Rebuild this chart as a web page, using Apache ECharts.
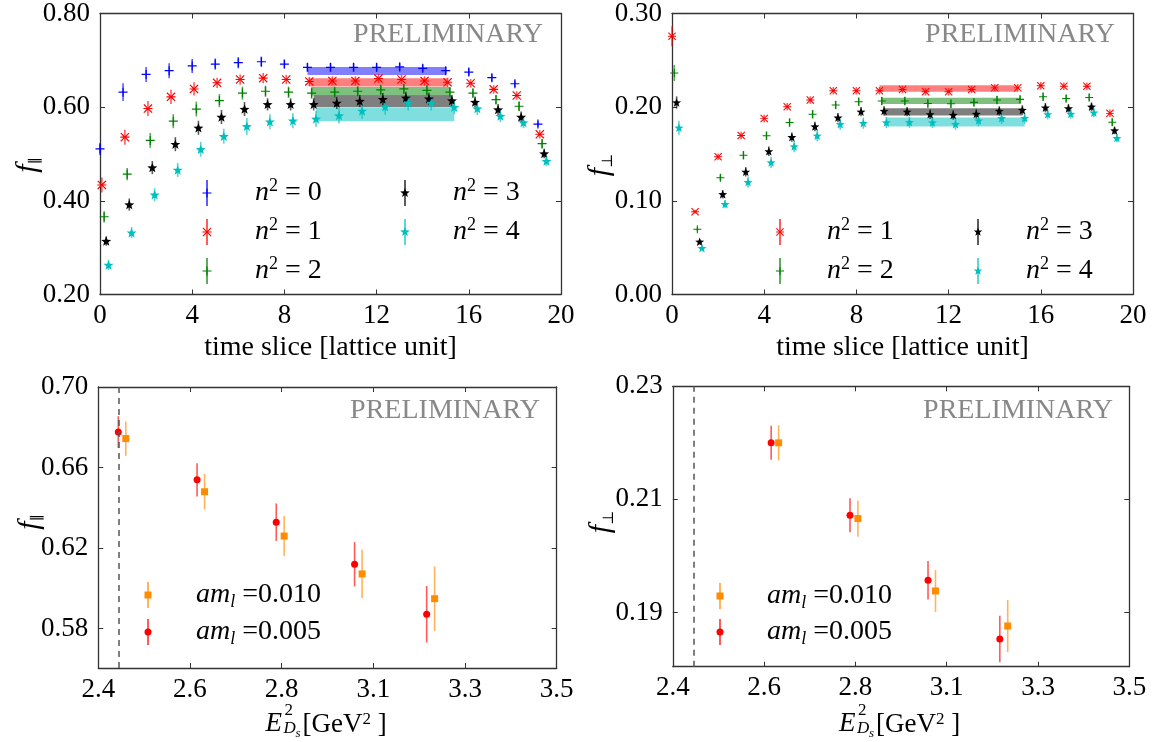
<!DOCTYPE html>
<html>
<head>
<meta charset="utf-8">
<script src="https://cdn.jsdelivr.net/npm/echarts@6/dist/echarts.min.js"></script>
<style>
html, body { margin: 0; padding: 0; background: #fff; }
#chart { width: 1160px; height: 742px; }
</style>
</head>
<body>
<div id="chart"></div>
<script>
// ---- data ----
const timeSlices = [0, 1, 2, 3, 4, 5, 6, 7, 8, 9, 10, 11, 12, 13, 14, 15, 16, 17, 18, 19];
const shiftPar = [0, 0.08, 0.18, 0.27, 0.37];   // n2 = 0..4
const shiftPerp = [0, 0.1, 0.2, 0.3];           // n2 = 1..4

const fParN0 = [0.511, 0.632, 0.670, 0.678, 0.688, 0.692, 0.695, 0.697, 0.692, 0.685, 0.685, 0.685, 0.685, 0.686, 0.683, 0.678, 0.675, 0.663, 0.650, 0.564];
const fParN1 = [0.434, 0.536, 0.597, 0.622, 0.639, 0.652, 0.659, 0.662, 0.659, 0.655, 0.656, 0.656, 0.661, 0.659, 0.656, 0.653, 0.651, 0.638, 0.625, 0.542];
const fParN2 = [0.366, 0.457, 0.529, 0.570, 0.596, 0.614, 0.630, 0.634, 0.632, 0.630, 0.632, 0.634, 0.637, 0.639, 0.636, 0.632, 0.630, 0.616, 0.602, 0.522];
const fParN3 = [0.314, 0.392, 0.471, 0.521, 0.556, 0.579, 0.596, 0.606, 0.606, 0.606, 0.609, 0.613, 0.617, 0.620, 0.618, 0.614, 0.611, 0.595, 0.579, 0.501];
const fParN4 = [0.263, 0.332, 0.413, 0.466, 0.510, 0.538, 0.559, 0.569, 0.571, 0.575, 0.582, 0.592, 0.601, 0.609, 0.609, 0.600, 0.597, 0.581, 0.567, 0.485];
const errParN0 = [0.013, 0.019, 0.016, 0.016, 0.015, 0.012, 0.012, 0.011, 0.009, 0.009, 0.009, 0.009, 0.009, 0.009, 0.008, 0.008, 0.008, 0.008, 0.007, 0.006];
const errParN1 = [0.016, 0.016, 0.016, 0.015, 0.014, 0.011, 0.011, 0.011, 0.010, 0.010, 0.010, 0.010, 0.010, 0.010, 0.010, 0.010, 0.009, 0.009, 0.009, 0.009];
const errParN2 = [0.012, 0.013, 0.016, 0.015, 0.016, 0.014, 0.014, 0.012, 0.012, 0.012, 0.012, 0.011, 0.011, 0.011, 0.011, 0.011, 0.010, 0.010, 0.010, 0.010];
const errParN3 = [0.010, 0.013, 0.014, 0.015, 0.015, 0.015, 0.015, 0.013, 0.013, 0.013, 0.013, 0.013, 0.013, 0.013, 0.013, 0.012, 0.012, 0.012, 0.012, 0.010];
const errParN4 = [0.011, 0.012, 0.014, 0.015, 0.016, 0.016, 0.018, 0.016, 0.016, 0.017, 0.017, 0.017, 0.017, 0.016, 0.016, 0.015, 0.014, 0.013, 0.012, 0.011];

const fPerpN1 = [0.2757, 0.0884, 0.1470, 0.1698, 0.1880, 0.2005, 0.2076, 0.2175, 0.2175, 0.2175, 0.2189, 0.2164, 0.2164, 0.2189, 0.2206, 0.2206, 0.2228, 0.2224, 0.2224, 0.1934];
const fPerpN2 = [0.2365, 0.0696, 0.1247, 0.1487, 0.1695, 0.1836, 0.1924, 0.2023, 0.2058, 0.2066, 0.2066, 0.2040, 0.2037, 0.2051, 0.2076, 0.2083, 0.2111, 0.2093, 0.2104, 0.1839];
const fPerpN3 = [0.2050, 0.0563, 0.1070, 0.1310, 0.1529, 0.1680, 0.1794, 0.1889, 0.1952, 0.1960, 0.1952, 0.1924, 0.1917, 0.1928, 0.1960, 0.1970, 0.1995, 0.1987, 0.2005, 0.1751];
const fPerpN4 = [0.1780, 0.0495, 0.0965, 0.1200, 0.1410, 0.1580, 0.1695, 0.1818, 0.1829, 0.1836, 0.1839, 0.1836, 0.1818, 0.1857, 0.1882, 0.1882, 0.1924, 0.1928, 0.1942, 0.1670];
const errPerpN1 = [0.0106, 0.002, 0.0035, 0.004, 0.004, 0.004, 0.004, 0.004, 0.004, 0.004, 0.004, 0.004, 0.004, 0.004, 0.004, 0.004, 0.004, 0.004, 0.004, 0.004];
const errPerpN2 = [0.0085, 0.002, 0.0035, 0.0045, 0.0045, 0.0045, 0.0045, 0.0045, 0.0045, 0.0045, 0.0045, 0.0045, 0.0045, 0.0045, 0.0045, 0.0045, 0.0045, 0.004, 0.004, 0.004];
const errPerpN3 = [0.0065, 0.002, 0.0045, 0.005, 0.005, 0.005, 0.005, 0.005, 0.005, 0.005, 0.005, 0.005, 0.005, 0.005, 0.005, 0.005, 0.005, 0.0045, 0.0045, 0.004];
const errPerpN4 = [0.0075, 0.002, 0.0045, 0.006, 0.006, 0.006, 0.006, 0.006, 0.006, 0.006, 0.006, 0.006, 0.006, 0.006, 0.006, 0.006, 0.0055, 0.005, 0.005, 0.0045];

// plateau fits, from t=9 to t=15
const fitFrom = 9, fitTo = 15;
const fitParCenter = [0.677, 0.653, 0.634, 0.613, 0.585];
const fitParHalf = [0.0085, 0.009, 0.009, 0.0124, 0.015];
const fitPerpCenter = [0.2199, 0.2067, 0.1949, 0.1841];
const fitPerpHalf = [0.0035, 0.0034, 0.0039, 0.0048];

// form factors vs E^2 (GeV^2), two light-quark masses
const eSqL005 = [2.448, 2.637, 2.827, 3.015, 3.188];
const eSqL010 = [2.466, 2.655, 2.846, 3.033, 3.207];
const fParL005 = [0.6776, 0.6539, 0.6329, 0.6120, 0.5872];
const errParL005 = [0.0079, 0.0083, 0.0093, 0.0110, 0.0140];
const fParL010 = [0.6744, 0.6480, 0.6260, 0.6072, 0.5949];
const errParL010 = [0.0085, 0.0088, 0.0099, 0.0120, 0.0160];
const fPerpL005 = [0.2200, 0.2072, 0.1957, 0.1853];   // no n2=0 point
const errPerpL005 = [0.0030, 0.0030, 0.0034, 0.0041];
const fPerpL010 = [0.2200, 0.2066, 0.1938, 0.1876];
const errPerpL010 = [0.0031, 0.0032, 0.0037, 0.0046];
const eSqCut = 2.447;

// tick labels
const eSqTicks = [2.4, 2.62, 2.84, 3.06, 3.28, 3.5];
const fParTicks = [0.58, 0.62, 0.66, 0.70];
const fPerpTicks = [0.19, 0.21, 0.23];

// ---- drawing ----
const FONT = 'Liberation Serif';
const INK = '#000';
const AXIS_COLOR = '#333';
const BLUE = '#0000ff', RED = '#ff0000', GREEN = '#008000', BLACK = '#000000', CYAN = '#00bfbf', ORANGE = '#ff8c00';

// marker outlines (polygons in a box of the given size)
const PLUS = { box: 12, polys: [[[5.2, 0], [6.8, 0], [6.8, 5.2], [12, 5.2], [12, 6.8], [6.8, 6.8], [6.8, 12], [5.2, 12], [5.2, 6.8], [0, 6.8], [0, 5.2], [5.2, 5.2]]] };
const ASTER = { box: 12, polys: [
  [[0, 1.1], [1.1, 0], [6, 4.9], [10.9, 0], [12, 1.1], [7.1, 6], [12, 10.9], [10.9, 12], [6, 7.1], [1.1, 12], [0, 10.9], [4.9, 6]],
  [[0, 5.3], [12, 5.3], [12, 6.7], [0, 6.7]]
] };
const STAR = { box: 100, polys: [[[50, 0], [62.3, 33], [97.6, 34.5], [70, 56.5], [79.4, 90.5], [50, 71], [20.6, 90.5], [30, 56.5], [2.4, 34.5], [37.7, 33]]] };

function symbolPath(m) {
  return 'path://' + m.polys.map(p => 'M' + p.map(q => q.join(',')).join('L') + 'Z').join('');
}

function points(xs, ys, shift, symbol, size, color, ax) {
  return {
    type: 'scatter', xAxisIndex: ax, yAxisIndex: ax,
    data: xs.map((x, i) => [x + shift, ys[i]]),
    symbol: symbol, symbolSize: size, symbolKeepAspect: true,
    itemStyle: { color: color, opacity: 1 },
    z: 4, silent: true, animation: false
  };
}

function errorBars(xs, ys, es, shift, color, ax) {
  return {
    type: 'custom', xAxisIndex: ax, yAxisIndex: ax,
    data: xs.map((x, i) => [x + shift, ys[i], es[i]]),
    encode: { x: 0, y: 1 },
    renderItem: function (params, api) {
      const x = api.value(0), y = api.value(1), e = api.value(2);
      const lo = api.coord([x, y - e]), hi = api.coord([x, y + e]);
      return {
        type: 'line',
        shape: { x1: lo[0], y1: lo[1], x2: hi[0], y2: hi[1] },
        style: { stroke: color, lineWidth: 1.6, opacity: 0.65 }
      };
    },
    z: 3, silent: true, animation: false
  };
}

function fitBand(from, to, c, h, color, ax) {
  return {
    type: 'custom', xAxisIndex: ax, yAxisIndex: ax,
    data: [[from, to, c, h]],
    encode: { x: [0, 1], y: 2 },
    renderItem: function (params, api) {
      const a = api.coord([api.value(0), api.value(2) + api.value(3)]);
      const b = api.coord([api.value(1), api.value(2) - api.value(3)]);
      return {
        type: 'rect',
        shape: { x: a[0], y: a[1], width: b[0] - a[0], height: b[1] - a[1] },
        style: { fill: color, opacity: 0.5 }
      };
    },
    z: 2, silent: true, animation: false
  };
}

function axis(gi, pos, min, max, extra) {
  const isLabel = pos === 'bottom' || pos === 'left';
  const a = {
    gridIndex: gi, type: 'value', position: pos, min: min, max: max,
    axisLine: { show: true, onZero: false, lineStyle: { color: AXIS_COLOR, width: 1.3 } },
    axisTick: { show: true, inside: true, length: 5, lineStyle: { color: AXIS_COLOR, width: 1 } },
    splitLine: { show: false },
    axisLabel: {
      show: isLabel, color: INK, fontFamily: FONT, fontSize: 27,
      margin: (pos === 'bottom') ? 8 : 10
    }
  };
  if (extra.interval != null) a.interval = extra.interval;
  if (extra.ticks) {
    a.axisTick.customValues = extra.ticks;
    a.axisLabel.customValues = extra.ticks;
  }
  if (extra.fmt) a.axisLabel.formatter = extra.fmt;
  return a;
}

const fmt2 = v => v.toFixed(2);
const fmt1 = v => v.toFixed(1);

const xAxes = [
  axis(0, 'bottom', 0, 20, { interval: 4 }), axis(0, 'top', 0, 20, { interval: 4 }),
  axis(1, 'bottom', 0, 20, { interval: 4 }), axis(1, 'top', 0, 20, { interval: 4 }),
  axis(2, 'bottom', 2.4, 3.5, { ticks: eSqTicks, fmt: fmt1 }), axis(2, 'top', 2.4, 3.5, { ticks: eSqTicks }),
  axis(3, 'bottom', 2.4, 3.5, { ticks: eSqTicks, fmt: fmt1 }), axis(3, 'top', 2.4, 3.5, { ticks: eSqTicks })
];
const yAxes = [
  axis(0, 'left', 0.2, 0.8, { interval: 0.2, fmt: fmt2 }), axis(0, 'right', 0.2, 0.8, { interval: 0.2 }),
  axis(1, 'left', 0, 0.3, { interval: 0.1, fmt: fmt2 }), axis(1, 'right', 0, 0.3, { interval: 0.1 }),
  axis(2, 'left', 0.5605, 0.70, { ticks: fParTicks, fmt: fmt2 }), axis(2, 'right', 0.5605, 0.70, { ticks: fParTicks }),
  axis(3, 'left', 0.1804, 0.23, { ticks: fPerpTicks, fmt: fmt2 }), axis(3, 'right', 0.1804, 0.23, { ticks: fPerpTicks })
];

const series = [];
// top left: f_par vs time slice, n2 = 0..4
const parSets = [
  [fParN0, errParN0, BLUE, PLUS, 9],
  [fParN1, errParN1, RED, ASTER, 9],
  [fParN2, errParN2, GREEN, PLUS, 9],
  [fParN3, errParN3, BLACK, STAR, 10],
  [fParN4, errParN4, CYAN, STAR, 10]
];
parSets.forEach((s, n) => {
  series.push(fitBand(fitFrom + shiftPar[n], fitTo + shiftPar[n], fitParCenter[n], fitParHalf[n], s[2], 0));
});
parSets.forEach((s, n) => {
  series.push(errorBars(timeSlices, s[0], s[1], shiftPar[n], s[2], 0));
  series.push(points(timeSlices, s[0], shiftPar[n], symbolPath(s[3]), s[4], s[2], 0));
});
// top right: f_perp, n2 = 1..4
const perpSets = [
  [fPerpN1, errPerpN1, RED, ASTER, 8],
  [fPerpN2, errPerpN2, GREEN, PLUS, 8],
  [fPerpN3, errPerpN3, BLACK, STAR, 9],
  [fPerpN4, errPerpN4, CYAN, STAR, 9]
];
perpSets.forEach((s, n) => {
  series.push(fitBand(fitFrom + shiftPerp[n], fitTo + shiftPerp[n], fitPerpCenter[n], fitPerpHalf[n], s[2], 2));
});
perpSets.forEach((s, n) => {
  series.push(errorBars(timeSlices, s[0], s[1], shiftPerp[n], s[2], 2));
  series.push(points(timeSlices, s[0], shiftPerp[n], symbolPath(s[3]), s[4], s[2], 2));
});
// bottom left: f_par vs E^2
const cutLine = {
  symbol: 'none', silent: true, animation: false, label: { show: false },
  lineStyle: { type: [6, 5], color: '#555', width: 1.5 },
  data: [{ xAxis: eSqCut }]
};
series.push(errorBars(eSqL010, fParL010, errParL010, 0, ORANGE, 4));
series.push(points(eSqL010, fParL010, 0, 'rect', 7, ORANGE, 4));
series.push(errorBars(eSqL005, fParL005, errParL005, 0, RED, 4));
const bl = points(eSqL005, fParL005, 0, 'circle', 7, RED, 4);
bl.markLine = cutLine;
series.push(bl);
// bottom right: f_perp vs E^2
series.push(errorBars(eSqL010.slice(1), fPerpL010, errPerpL010, 0, ORANGE, 6));
series.push(points(eSqL010.slice(1), fPerpL010, 0, 'rect', 7, ORANGE, 6));
series.push(errorBars(eSqL005.slice(1), fPerpL005, errPerpL005, 0, RED, 6));
const br = points(eSqL005.slice(1), fPerpL005, 0, 'circle', 7, RED, 6);
br.markLine = Object.assign({}, cutLine);
series.push(br);

// ---- texts: axis titles, watermark, keys ----
function text(x, y, str, opts) {
  const st = Object.assign({
    text: str, fill: INK, fontFamily: FONT, fontSize: 27,
    align: 'left', verticalAlign: 'middle'
  }, opts || {});
  st.textAlign = st.align;
  st.textVerticalAlign = st.verticalAlign;
  return { type: 'text', x: x, y: y, silent: true, style: st };
}

const richBase = {
  i: { fontFamily: FONT, fontStyle: 'italic', fontSize: 28, lineHeight: 32, fill: INK },
  t: { fontFamily: FONT, fontSize: 28, lineHeight: 32, fill: INK },
  up: { fontFamily: FONT, fontSize: 18, lineHeight: 15, verticalAlign: 'top', fill: INK },
  dn: { fontFamily: FONT, fontStyle: 'italic', fontSize: 18, lineHeight: 14, verticalAlign: 'bottom', fill: INK }
};

function keyMark(cx, cy, color, kind, size) {
  const els = [{
    type: 'line', silent: true,
    shape: { x1: cx, y1: cy - 13, x2: cx, y2: cy + 13 },
    style: { stroke: color, lineWidth: 1.6, opacity: 0.8 }
  }];
  if (kind === 'circle') {
    els.push({ type: 'circle', silent: true, shape: { cx: cx, cy: cy, r: size / 2 }, style: { fill: color } });
  } else if (kind === 'rect') {
    els.push({ type: 'rect', silent: true, shape: { x: cx - size / 2, y: cy - size / 2, width: size, height: size }, style: { fill: color } });
  } else {
    kind.polys.forEach(p => {
      els.push({ type: 'polygon', silent: true,
        shape: { points: p.map(q => [cx - size / 2 + q[0] / kind.box * size, cy - size / 2 + q[1] / kind.box * size]) },
        style: { fill: color } });
    });
  }
  return els;
}

function nKey(cx, cy, tx, color, kind, size, n) {
  return keyMark(cx, cy, color, kind, size).concat([
    text(tx, cy, '{i|n}{up|2}{t| = ' + n + '}', { rich: richBase })
  ]);
}
function mKey(cx, cy, tx, color, kind, val) {
  return keyMark(cx, cy, color, kind, 7).concat([
    text(tx, cy, '{i|am}{dn|l}{t| =' + val + '}', { rich: richBase })
  ]);
}

function fTitle(cx, cy, sub) {
  return {
    type: 'text', x: cx, y: cy, rotation: Math.PI / 2, silent: true,
    style: {
      text: '{i|f}{s|' + sub + '}', fontFamily: FONT, fontSize: 30,
      align: 'center', verticalAlign: 'middle',
      textAlign: 'center', textVerticalAlign: 'middle',
      rich: {
        i: { fontFamily: FONT, fontStyle: 'italic', fontSize: 30, lineHeight: 32, fill: INK },
        s: { fontFamily: 'DejaVu Serif', fontSize: 15, lineHeight: 12, verticalAlign: 'bottom', fill: INK }
      }
    }
  };
}

function eTitle(cx, cy) {
  return {
    type: 'group', x: cx, y: cy, silent: true,
    children: [
      text(-62, 0, 'E', { fontStyle: 'italic', fontSize: 27 }),
      text(-43, -13, '2', { fontSize: 17 }),
      text(-44, 5, 'D', { fontStyle: 'italic', fontSize: 17 }),
      text(-32, 10, 's', { fontStyle: 'italic', fontSize: 13 }),
      text(-25, 1, '[GeV{up|2} ]', {
        rich: {
          up: { fontFamily: FONT, fontSize: 17, lineHeight: 14, verticalAlign: 'top', fill: INK },
          t: { fontFamily: FONT, fontSize: 27, lineHeight: 30, fill: INK }
        }
      })
    ]
  };
}

function prelim(cx, cy) {
  return text(cx, cy, 'PRELIMINARY', { fontSize: 28, fill: '#888', align: 'center' });
}

const graphics = [].concat(
  [
    text(330.5, 348, 'time slice [lattice unit]', { align: 'center', fontSize: 28 }),
    text(902.5, 348, 'time slice [lattice unit]', { align: 'center', fontSize: 28 }),
    eTitle(327.5, 724),
    eTitle(901, 724),
    fTitle(28, 165, '\u2225'),
    fTitle(600, 165, '\u22A5'),
    fTitle(30, 522, '\u2225'),
    fTitle(601, 522, '\u22A5'),
    prelim(448, 35), prelim(1020, 35), prelim(445, 411), prelim(1018, 411)
  ],
  nKey(207, 193, 255, BLUE, PLUS, 9, 0),
  nKey(207, 232, 255, RED, ASTER, 9, 1),
  nKey(207, 271, 255, GREEN, PLUS, 9, 2),
  nKey(405, 193, 453, BLACK, STAR, 10, 3),
  nKey(405, 232, 453, CYAN, STAR, 10, 4),
  nKey(780, 232, 827, RED, ASTER, 8, 1),
  nKey(780, 271, 827, GREEN, PLUS, 8, 2),
  nKey(978, 232, 1026, BLACK, STAR, 9, 3),
  nKey(978, 271, 1026, CYAN, STAR, 9, 4),
  mKey(148, 595, 196, ORANGE, 'rect', '0.010'),
  mKey(148, 632, 196, RED, 'circle', '0.005'),
  mKey(720, 596, 767, ORANGE, 'rect', '0.010'),
  mKey(720, 632, 767, RED, 'circle', '0.005')
);

const chart = echarts.init(document.getElementById('chart'));
const option = {
  backgroundColor: '#fff',
  animation: false,
  textStyle: { fontFamily: FONT },
  grid: [
    { left: 100, top: 12, width: 461, height: 282.5 },
    { left: 672, top: 11, width: 461, height: 283.5 },
    { left: 98.3, top: 387, width: 458.4, height: 281 },
    { left: 672.8, top: 386.3, width: 456.5, height: 280.4 }
  ],
  xAxis: xAxes,
  yAxis: yAxes,
  series: series,
  graphic: { elements: graphics }
};
chart.setOption(option);
</script>
</body>
</html>
